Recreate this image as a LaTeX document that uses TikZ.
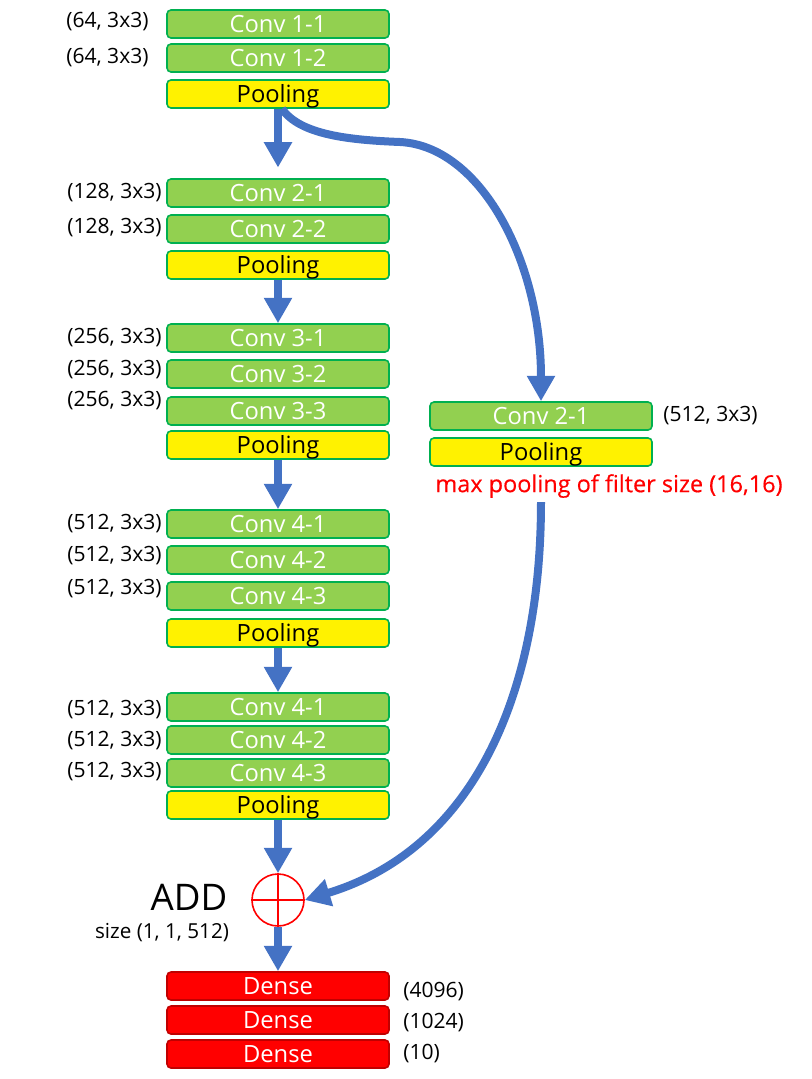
\documentclass[tikz,border=0pt]{standalone}
\usepackage{fontspec}
\setmainfont{Open Sans}
\newfontfamily\notefont[FakeBold=0.4]{Open Sans}
\usetikzlibrary{arrows.meta}
\definecolor{boxgreen}{HTML}{92D050}
\definecolor{edgegreen}{HTML}{00B050}
\definecolor{arrowblue}{HTML}{4472C4}
\definecolor{densered}{HTML}{FF0000}
\definecolor{densedge}{HTML}{C00000}
\begin{document}
\begin{tikzpicture}[x=0.75pt,y=-0.75pt,
 layer/.style={rectangle, rounded corners=3pt, line width=1.2pt, minimum width=166.5pt, minimum height=21pt, inner sep=0pt, text height=12.5pt, text depth=0pt, font=\fontsize{17.8}{20}\selectfont},
 conv/.style={layer, draw=edgegreen, fill=boxgreen, text=white},
 pool/.style={layer, draw=edgegreen, fill=yellow, text=black},
 dense/.style={layer, draw=densedge, fill=densered, text=white},
 lab/.style={font=\fontsize{15.8}{18}\selectfont, anchor=west, inner sep=0pt},
 flow/.style={draw=arrowblue, line width=6pt, -{Triangle[width=20pt,length=19pt]}},
 addop/.style={circle, draw=red, line width=1.2pt, minimum size=39pt, inner sep=0pt},
]
\useasboundingbox (0,0) rectangle (812,1079);

% main column
\node[conv] (c11) at (278,24) {Conv 1-1};
\node[conv] (c12) at (278,58) {Conv 1-2};
\node[pool] (p1) at (278,94) {Pooling};
\node[conv] (c21) at (278,193) {Conv 2-1};
\node[conv] (c22) at (278,229) {Conv 2-2};
\node[pool] (p2) at (278,265) {Pooling};
\node[conv] (c31) at (278,338) {Conv 3-1};
\node[conv] (c32) at (278,374) {Conv 3-2};
\node[conv] (c33) at (278,411) {Conv 3-3};
\node[pool] (p3) at (278,445) {Pooling};
\node[conv] (c41) at (278,524) {Conv 4-1};
\node[conv] (c42) at (278,560) {Conv 4-2};
\node[conv] (c43) at (278,596) {Conv 4-3};
\node[pool] (p4) at (278,633) {Pooling};
\node[conv] (c51) at (278,707) {Conv 4-1};
\node[conv] (c52) at (278,740) {Conv 4-2};
\node[conv] (c53) at (278,773) {Conv 4-3};
\node[pool] (p5) at (278,805) {Pooling};
\node[addop] (add) at (278,900) {};
\draw[red, line width=1.2pt] (add.north) -- (add.south) (add.west) -- (add.east);
\node[dense] (d1) at (278,986) {Dense};
\node[dense] (d2) at (278,1020) {Dense};
\node[dense] (d3) at (278,1054) {Dense};

% side branch
\node[conv] (rc) at (541,416) {Conv 2-1};
\node[pool] (rp) at (541,452) {Pooling};
\node[lab] (rcl) at (663,416) {(512, 3x3)};
\node[font=\notefont\fontsize{17.6}{20}\selectfont, text=red, inner sep=0pt] (note) at (609,486) {max pooling of filter size (16,16)};

% labels
\node[lab] (l11) at (66,22) {(64, 3x3)};
\node[lab] (l12) at (66,58) {(64, 3x3)};
\node[lab] (l21) at (67,193) {(128, 3x3)};
\node[lab] (l22) at (67,228) {(128, 3x3)};
\node[lab] (l31) at (67,338) {(256, 3x3)};
\node[lab] (l32) at (67,370) {(256, 3x3)};
\node[lab] (l33) at (67,401) {(256, 3x3)};
\node[lab] (l41) at (67,524) {(512, 3x3)};
\node[lab] (l42) at (67,556) {(512, 3x3)};
\node[lab] (l43) at (67,589) {(512, 3x3)};
\node[lab] (l51) at (67,710) {(512, 3x3)};
\node[lab] (l52) at (67,741) {(512, 3x3)};
\node[lab] (l53) at (67,772) {(512, 3x3)};
\node[font=\fontsize{27.5}{30}\selectfont, inner sep=0pt] (addl) at (189,897) {ADD};
\node[font=\fontsize{15.5}{18}\selectfont, inner sep=0pt] (sizel) at (162,933) {size (1, 1, 512)};
\node[lab] (dl1) at (403,992) {(4096)};
\node[lab] (dl2) at (403,1023) {(1024)};
\node[lab] (dl3) at (403,1054) {(10)};

% arrows
\draw[flow, shorten >=8pt] (p1.south) -- (c21.north);
\draw[flow] (p2.south) -- (c31.north);
\draw[flow] (p3.south) -- (c41.north);
\draw[flow] (p4.south) -- (c51.north);
\draw[flow] (p5.south) -- (add.north);
\draw[flow] (add.south) -- (d1.north);
\draw[flow] ([xshift=3pt]p1.south) .. controls (300,135) and (350,140) .. (400,142)
  .. controls (480,146) and (541,260) .. (rc.north);
\draw[flow] ([yshift=-3pt]rp.south |- note.south) .. controls (541,700) and (470,850) .. (add.east);
\end{tikzpicture}
\end{document}
